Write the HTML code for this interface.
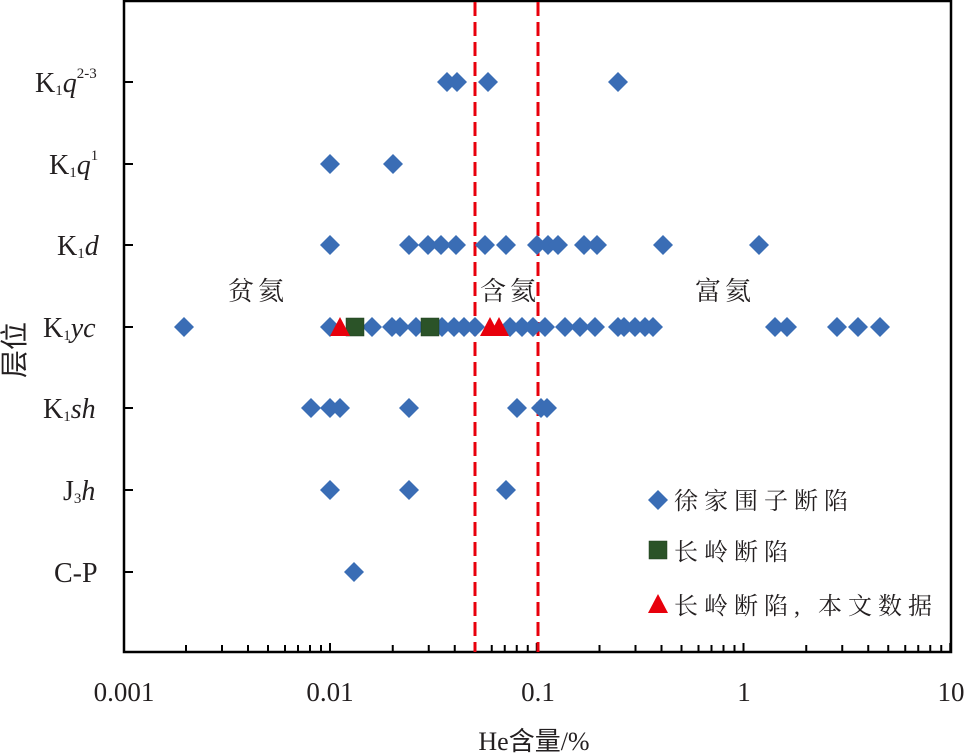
<!DOCTYPE html>
<html><head><meta charset="utf-8"><style>
html,body{margin:0;padding:0;background:#fff;}
svg{display:block;}
text{font-family:"Liberation Serif","Noto Serif CJK SC",serif;fill:#231f20;}
.cj{font-family:"Liberation Serif","Noto Sans CJK SC",sans-serif;}
</style></head><body>
<svg width="969" height="755" viewBox="0 0 969 755" xmlns="http://www.w3.org/2000/svg">
<defs>
<path id="d" d="M0,-10 L10,0 L0,10 L-10,0Z" fill="#3a6db5"/>
<rect id="s" x="-9" y="-9" width="18" height="18" fill="#2b5328" stroke="#1e3d1c" stroke-width="0.5"/>
<path id="t" d="M0,-10 L10,9 L-10,9Z" fill="#e8000c"/>
</defs>
<rect x="124" y="1" width="827" height="651" fill="none" stroke="#000" stroke-width="2.5"/>
<g stroke="#000" stroke-width="2">
<path d="M124,82h9M124,164h9M124,245h9M124,327h9M124,408h9M124,490h9M124,572h9"/>
<g id="mt">
<path d="M186,652v-7M222,652v-7M248,652v-7M268,652v-7M285,652v-7M298,652v-7M310,652v-7M321,652v-7M330,652v-9"/>
</g>
<use href="#mt" x="206.75"/><use href="#mt" x="413.5"/><use href="#mt" x="620.25"/>
</g>
<g stroke="#e8000c" stroke-width="3" stroke-dasharray="14,6">
<line x1="475" y1="2" x2="475" y2="652"/><line x1="538" y1="2" x2="538" y2="652"/>
</g>
<g>
<use href="#d" x="447" y="82"/><use href="#d" x="457" y="82"/><use href="#d" x="488" y="82"/><use href="#d" x="618" y="82"/>
<use href="#d" x="330" y="164"/><use href="#d" x="393" y="164"/>
<use href="#d" x="330" y="245"/><use href="#d" x="409" y="245"/><use href="#d" x="428" y="245"/><use href="#d" x="441" y="245"/><use href="#d" x="456" y="245"/><use href="#d" x="485" y="245"/><use href="#d" x="506" y="245"/><use href="#d" x="537" y="245"/><use href="#d" x="548" y="245"/><use href="#d" x="558" y="245"/><use href="#d" x="584" y="245"/><use href="#d" x="597" y="245"/><use href="#d" x="663" y="245"/><use href="#d" x="759" y="245"/>
<use href="#d" x="184" y="327"/><use href="#d" x="330" y="327"/><use href="#d" x="372" y="327"/><use href="#d" x="392" y="327"/><use href="#d" x="400" y="327"/><use href="#d" x="416" y="327"/><use href="#d" x="442" y="327"/><use href="#d" x="454" y="327"/><use href="#d" x="464" y="327"/><use href="#d" x="475" y="327"/><use href="#d" x="510" y="327"/><use href="#d" x="522" y="327"/><use href="#d" x="533" y="327"/><use href="#d" x="545" y="327"/><use href="#d" x="565" y="327"/><use href="#d" x="580" y="327"/><use href="#d" x="595" y="327"/><use href="#d" x="618" y="327"/><use href="#d" x="624" y="327"/><use href="#d" x="635" y="327"/><use href="#d" x="645" y="327"/><use href="#d" x="653" y="327"/><use href="#d" x="775" y="327"/><use href="#d" x="787" y="327"/><use href="#d" x="837" y="327"/><use href="#d" x="858" y="327"/><use href="#d" x="880" y="327"/>
<use href="#d" x="311" y="408"/><use href="#d" x="330" y="408"/><use href="#d" x="340" y="408"/><use href="#d" x="409" y="408"/><use href="#d" x="517" y="408"/><use href="#d" x="541" y="408"/><use href="#d" x="547" y="408"/>
<use href="#d" x="330" y="490"/><use href="#d" x="409" y="490"/><use href="#d" x="506" y="490"/>
<use href="#d" x="354" y="572"/>
<use href="#s" x="355" y="327"/><use href="#s" x="430" y="327"/>
<use href="#t" x="340" y="327"/><use href="#t" x="490" y="327"/><use href="#t" x="499" y="327"/>
</g>
<g font-size="28">
<text x="35" y="92">K<tspan font-size="15" dy="3">1</tspan><tspan font-style="italic" dy="-3">q</tspan><tspan font-size="15" dy="-14">2-3</tspan></text>
<text x="49" y="174">K<tspan font-size="15" dy="3">1</tspan><tspan font-style="italic" dy="-3">q</tspan><tspan font-size="15" dy="-14">1</tspan></text>
<text x="57" y="255">K<tspan font-size="15" dy="3">1</tspan><tspan font-style="italic" dy="-3">d</tspan></text>
<text x="43" y="337">K<tspan font-size="15" dy="3">1</tspan><tspan font-style="italic" dy="-3">yc</tspan></text>
<text x="43" y="418">K<tspan font-size="15" dy="3">1</tspan><tspan font-style="italic" dy="-3">sh</tspan></text>
<text x="63" y="500">J<tspan font-size="15" dy="3">3</tspan><tspan font-style="italic" dy="-3">h</tspan></text>
<text x="54" y="582">C-P</text>
</g>
<g font-size="27" text-anchor="middle">
<text x="124" y="701">0.001</text><text x="330" y="701">0.01</text><text x="538" y="701">0.1</text><text x="744" y="701">1</text><text x="951" y="701">10</text>
</g>
<text x="534" y="750" font-size="26" text-anchor="middle" class="cj">He含量/%</text>
<text class="cj" font-size="28" transform="translate(24,350) rotate(-90)" text-anchor="middle">层位</text>
<g class="cj" font-size="26" text-anchor="middle" letter-spacing="4">
<text x="258" y="300">贫氦</text><text x="510" y="300">含氦</text><text x="725" y="300">富氦</text>
</g>
<use href="#d" x="658" y="500"/><use href="#s" x="658" y="550"/><use href="#t" x="658" y="604"/>
<g class="cj" font-size="24" letter-spacing="6">
<text x="674" y="509">徐家围子断陷</text>
<text x="674" y="560">长岭断陷</text>
<text x="674" y="614">长岭断陷, 本文数据</text>
</g>
</svg>
</body></html>
